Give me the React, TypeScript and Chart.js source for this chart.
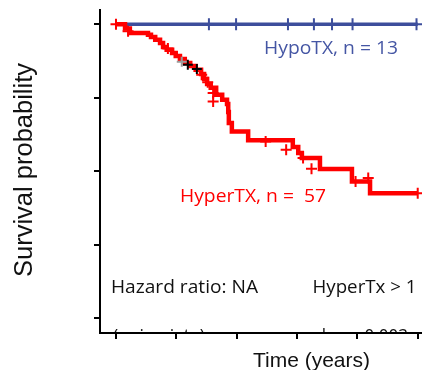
import React, { useEffect, useRef } from "react";
import { Chart, registerables } from "chart.js";

Chart.register(...registerables);

// ---- data ----
const xTicks = [0, 1, 2, 3, 4, 5];
const yTicks = [0, 0.25, 0.5, 0.75, 1];

// HyperTX Kaplan-Meier steps (time in years, survival probability)
const hyperTimes = [0, 0.15, 0.23, 0.53, 0.58, 0.65, 0.73, 0.78, 0.84, 0.93, 0.99, 1.06, 1.14, 1.23, 1.32, 1.41, 1.46, 1.51, 1.57, 1.66, 1.76, 1.84, 1.86, 1.87, 1.92, 2.19, 2.93, 3.02, 3.08, 3.38, 3.91, 4.21, 5.0];
const hyperSurv = [1.0, 0.986, 0.97, 0.964, 0.957, 0.947, 0.936, 0.923, 0.913, 0.902, 0.892, 0.882, 0.868, 0.858, 0.845, 0.831, 0.814, 0.797, 0.784, 0.76, 0.743, 0.729, 0.702, 0.664, 0.635, 0.606, 0.583, 0.562, 0.545, 0.508, 0.465, 0.425, 0.425];
const hyperCensorTimes = [0, 0.2, 0.86, 1.42, 1.52, 1.61, 1.61, 2.48, 2.82, 3.1, 3.24, 3.97, 4.18, 5.0];
const hyperCensorSurv = [1.0, 0.976, 0.918, 0.828, 0.803, 0.766, 0.737, 0.601, 0.573, 0.545, 0.509, 0.465, 0.477, 0.425];

// HypoTX
const hypoTimes = [0, 5.0];
const hypoSurv = [1, 1];
const hypoCensorTimes = [1.54, 1.99, 2.85, 3.28, 3.58, 3.92, 4.98];
const hypoCensorSurv = [1, 1, 1, 1, 1, 1, 1];

// other censor marks (grey / black)
const greyCensorTimes = [1.09];
const greyCensorSurv = [0.873];
const blackCensorTimes = [1.19, 1.34];
const blackCensorSurv = [0.862, 0.848];

const hypoLabel = "HypoTX, n = 13";
const hyperLabel = "HyperTX, n =  57";
const hazardLabel = "Hazard ratio: NA";
const directionLabel = "HyperTx > 1";
const noteLabel = "(univariate)";
const pLabel = "p value = 0.003";
const xTitle = "Time (years)";
const yTitle = "Survival probability";

const RED = "#ff0000";
const BLUE = "#3d4e9c";
const BLUE_TEXT = "#4556a4";

const pts = (xs: number[], ys: number[]) => xs.map((x, i) => ({ x, y: ys[i] }));

function drawFit(
  ctx: CanvasRenderingContext2D,
  text: string,
  x: number,
  y: number,
  width: number,
  font: string,
  color: string
) {
  ctx.save();
  ctx.font = font;
  ctx.fillStyle = color;
  ctx.textAlign = "left";
  ctx.textBaseline = "alphabetic";
  const w = ctx.measureText(text).width;
  ctx.translate(x, y);
  ctx.scale(width / w, 1);
  ctx.fillText(text, 0, 0);
  ctx.restore();
}

const textPlugin = {
  id: "kmText",
  afterDatasetsDraw(chart: any) {
    const ctx: CanvasRenderingContext2D = chart.ctx;
    const area = chart.chartArea;
    const f = "17.5px 'Open Sans', sans-serif";
    drawFit(ctx, hypoLabel, 264, 54, 134, f, BLUE_TEXT);
    drawFit(ctx, hyperLabel, 180, 202, 146, f, RED);
    drawFit(ctx, hazardLabel, 111, 293, 147, f, "#111");
    drawFit(ctx, directionLabel, 312.5, 293, 104, f, "#111");
    // bottom line clipped by the x axis
    ctx.save();
    ctx.beginPath();
    ctx.rect(area.left, area.top, area.right - area.left, area.bottom - area.top - 1);
    ctx.clip();
    drawFit(ctx, noteLabel, 113, 342, 92, f, "#111");
    drawFit(ctx, pLabel, 289, 342, 119, f, "#111");
    ctx.restore();
  },
  afterDraw(chart: any) {
    const ctx: CanvasRenderingContext2D = chart.ctx;
    ctx.save();
    ctx.fillStyle = "#111";
    ctx.font = "21px 'Liberation Sans', Arial, sans-serif";
    ctx.textAlign = "center";
    ctx.textBaseline = "alphabetic";
    ctx.fillText(xTitle, 311.5, 366.5);
    ctx.translate(31.5, 170);
    ctx.rotate(-Math.PI / 2);
    ctx.font = "25.5px 'Liberation Sans', Arial, sans-serif";
    ctx.fillText(yTitle, 0, 0);
    ctx.restore();
  },
};

export default function App() {
  const ref = useRef<HTMLCanvasElement | null>(null);
  useEffect(() => {
    document.body.style.margin = "0";
    document.body.style.overflow = "hidden";
    const canvas = ref.current;
    if (!canvas) return;
    const axis = (ticks: number[], min: number, max: number) => ({
      type: "linear" as const,
      min,
      max,
      afterBuildTicks: (s: any) => {
        s.ticks = ticks.map((v) => ({ value: v }));
      },
      ticks: { display: false },
      grid: {
        display: true,
        drawOnChartArea: false,
        drawTicks: true,
        tickLength: 6,
        color: "#000",
        lineWidth: 2,
      },
      border: { display: true, color: "#000", width: 2 },
    });
    const chart = new Chart(canvas, {
      type: "scatter",
      data: {
        datasets: [
          {
            label: "grey",
            data: pts(greyCensorTimes, greyCensorSurv),
            showLine: false,
            pointStyle: "cross",
            pointRadius: 5,
            borderWidth: 2,
            borderColor: "#9a9a9a",
            backgroundColor: "#9a9a9a",
          },
          {
            label: "black",
            data: pts(blackCensorTimes, blackCensorSurv),
            showLine: false,
            pointStyle: "cross",
            pointRadius: 5,
            borderWidth: 2,
            borderColor: "#000",
            backgroundColor: "#000",
          },
          {
            label: "HyperTX censored",
            data: pts(hyperCensorTimes, hyperCensorSurv),
            showLine: false,
            pointStyle: "cross",
            pointRadius: 5.5,
            borderWidth: 2,
            borderColor: RED,
            backgroundColor: RED,
          },
          {
            label: "HyperTX",
            data: pts(hyperTimes, hyperSurv),
            showLine: true,
            stepped: "before",
            pointRadius: 0,
            borderWidth: 4.5,
            borderColor: RED,
            backgroundColor: RED,
          },
          {
            label: "HypoTX censored",
            data: pts(hypoCensorTimes, hypoCensorSurv),
            showLine: false,
            pointStyle: "cross",
            pointRadius: 6,
            borderWidth: 2,
            borderColor: BLUE,
            backgroundColor: BLUE,
          },
          {
            label: "HypoTX",
            data: pts(hypoTimes, hypoSurv),
            showLine: true,
            pointRadius: 0,
            borderWidth: 3.5,
            borderColor: BLUE,
            backgroundColor: BLUE,
          },
        ],
      },
      options: {
        animation: false,
        responsive: false,
        devicePixelRatio: 1,
        layout: { autoPadding: false, padding: { left: 94, top: 10, right: 0, bottom: 31 } },
        plugins: { legend: { display: false }, tooltip: { enabled: false } },
        scales: {
          x: axis(xTicks, -0.265, 5.071),
          y: axis(yTicks, -0.05, 1.0486),
        },
      },
      plugins: [textPlugin],
    } as any);
    return () => chart.destroy();
  }, []);
  return (
    <div style={{ width: 422, height: 370 }}>
      <canvas ref={ref} width={422} height={370} style={{ display: "block" }} />
    </div>
  );
}
